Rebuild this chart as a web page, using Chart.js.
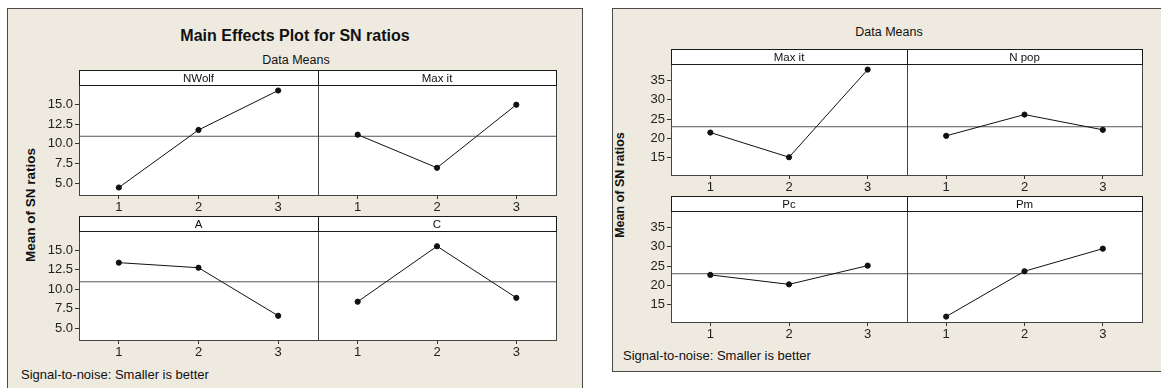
<!DOCTYPE html>
<html>
<head>
<meta charset="utf-8">
<script src="https://cdn.jsdelivr.net/npm/chart.js@4.4.1/dist/chart.umd.min.js"></script>
<style>
  body { margin: 0; width: 1161px; height: 388px; background: #fff; position: relative; overflow: hidden;
         font-family: "Liberation Sans", Arial, sans-serif; color: #111; }
  .fig { position: absolute; box-sizing: border-box; border: 1px solid #4a4a4a; background: #eeeae0; }
  .txt { position: absolute; white-space: nowrap; line-height: 1; }
  .c { transform: translate(-50%, -50%); }
  .v { transform: translate(-50%, -50%) rotate(-90deg); font-weight: bold; }
  canvas { position: absolute; }
</style>
</head>
<body>
<div class="fig" style="left:7px;top:8px;width:576px;height:400px"></div>
<div class="fig" style="left:612px;top:8px;width:560px;height:364px"></div>

<div class="txt c" style="left:295px;top:36px;font-size:16px;font-weight:bold">Main Effects Plot for SN ratios</div>
<div class="txt c" style="left:296px;top:60px;font-size:12.5px">Data Means</div>
<div class="txt v" style="left:31px;top:205px;font-size:13.5px">Mean of SN ratios</div>
<div class="txt" style="left:21px;top:368px;font-size:13px">Signal-to-noise: Smaller is better</div>

<div class="txt c" style="left:889px;top:32px;font-size:12.5px">Data Means</div>
<div class="txt v" style="left:620px;top:185px;font-size:12.5px">Mean of SN ratios</div>
<div class="txt" style="left:623px;top:349px;font-size:13px">Signal-to-noise: Smaller is better</div>

<script>
// factor levels (x axis of every panel)
const levels = [1, 2, 3];
const xRange = [0.5, 3.5];

// left chart: Main Effects Plot for SN ratios
const leftFactors = ['NWolf', 'Max it', 'A', 'C'];
const nwolfSN = [4.45, 11.75, 16.75];
const maxItSN = [11.15, 6.95, 14.95];
const aSN = [13.4, 12.75, 6.6];
const cSN = [8.4, 15.5, 8.9];
const leftMean = 10.95;
const leftYTicks = [5, 7.5, 10, 12.5, 15];
const leftYRange = [3.5, 17.45];

// right chart
const rightFactors = ['Max it', 'N pop', 'Pc', 'Pm'];
const maxIt2SN = [21.5, 15.1, 37.8];
const npopSN = [20.65, 26.15, 22.2];
const pcSN = [22.7, 20.25, 25.1];
const pmSN = [11.9, 23.65, 29.5];
const rightMean = 23.0;
const rightYTicks = [15, 20, 25, 30, 35];
const rightYRange = [10.5, 39.25];

// panel placement on the page
const leftCols = [79, 318, 556];
const leftRows = [[70, 85, 195], [216, 231, 340]];
const rightCols = [671, 907, 1142];
const rightRows = [[49, 64, 175], [196, 211, 322]];

const AXIS_W = 44, PAD_R = 8, XAXIS_H = 22;
const FONT = '"Liberation Sans", Arial, sans-serif';

// white plot box + header strip with factor name
const panelFrame = {
  id: 'panelFrame',
  beforeDraw(chart, args, o) {
    const { ctx, chartArea: a } = chart;
    ctx.save();
    ctx.fillStyle = '#fff';
    ctx.fillRect(a.left, a.top - o.headH, a.right - a.left, a.bottom - a.top + o.headH);
    ctx.restore();
  },
  afterDraw(chart, args, o) {
    const { ctx, chartArea: a } = chart;
    const w = a.right - a.left;
    ctx.save();
    ctx.lineWidth = 1;
    ctx.strokeStyle = '#444';
    ctx.strokeRect(a.left + 0.5, a.top + 0.5, w, a.bottom - a.top);
    ctx.strokeStyle = '#1a1a1a';
    ctx.strokeRect(a.left + 0.5, a.top - o.headH + 0.5, w, o.headH);
    ctx.fillStyle = '#111';
    ctx.font = '11.5px ' + FONT;
    ctx.textAlign = 'center';
    ctx.textBaseline = 'middle';
    ctx.fillText(o.label, a.left + w / 2, a.top - o.headH / 2 + 1);
    ctx.restore();
  }
};

function makePanel(p) {
  const canvas = document.createElement('canvas');
  canvas.width = AXIS_W + (p.x1 - p.x0) + PAD_R;
  canvas.height = (p.bottom - p.head) + XAXIS_H;
  canvas.style.left = (p.x0 - AXIS_W) + 'px';
  canvas.style.top = p.head + 'px';
  document.body.appendChild(canvas);

  new Chart(canvas, {
    type: 'scatter',
    data: {
      datasets: [{
        data: levels.map((lv, i) => ({ x: lv, y: p.values[i] })),
        showLine: true,
        borderColor: '#111',
        backgroundColor: '#111',
        borderWidth: 1,
        pointRadius: 2.6,
        pointHoverRadius: 2.6,
        order: 0
      }, {
        data: xRange.map(x => ({ x: x, y: p.mean })),
        showLine: true,
        borderColor: '#555',
        borderWidth: 1,
        pointRadius: 0,
        order: 1
      }]
    },
    options: {
      responsive: false,
      animation: false,
      devicePixelRatio: 1,
      events: [],
      layout: { padding: { top: p.top - p.head, left: p.showY ? 0 : AXIS_W, right: PAD_R, bottom: 0 } },
      plugins: {
        legend: { display: false },
        tooltip: { enabled: false },
        panelFrame: { label: p.label, headH: p.top - p.head }
      },
      scales: {
        x: {
          type: 'linear',
          min: xRange[0],
          max: xRange[1],
          afterBuildTicks: s => { s.ticks = levels.map(v => ({ value: v })); },
          afterFit: s => { s.height = XAXIS_H; },
          ticks: { color: '#222', padding: 1, font: { family: FONT, size: 13 } },
          grid: { drawOnChartArea: false, tickLength: 4, color: '#333' },
          border: { display: false }
        },
        y: {
          display: p.showY,
          min: p.yRange[0],
          max: p.yRange[1],
          afterBuildTicks: s => { s.ticks = p.yTicks.map(v => ({ value: v })); },
          afterFit: p.showY ? (s => { s.width = AXIS_W; }) : undefined,
          ticks: {
            color: '#222', padding: 2, font: { family: FONT, size: 13 },
            callback: v => v.toFixed(p.decimals)
          },
          grid: { drawOnChartArea: false, tickLength: 4, color: '#333' },
          border: { display: false }
        }
      }
    },
    plugins: [panelFrame]
  });
}

function makeFigure(factors, series, mean, yTicks, yRange, decimals, cols, rows) {
  factors.forEach((label, i) => {
    const r = rows[Math.floor(i / 2)], c = i % 2;
    makePanel({
      label, values: series[i], mean, yTicks, yRange, decimals,
      x0: cols[c], x1: cols[c + 1], head: r[0], top: r[1], bottom: r[2],
      showY: c === 0
    });
  });
}

makeFigure(leftFactors, [nwolfSN, maxItSN, aSN, cSN], leftMean, leftYTicks, leftYRange, 1, leftCols, leftRows);
makeFigure(rightFactors, [maxIt2SN, npopSN, pcSN, pmSN], rightMean, rightYTicks, rightYRange, 0, rightCols, rightRows);
</script>
</body>
</html>
